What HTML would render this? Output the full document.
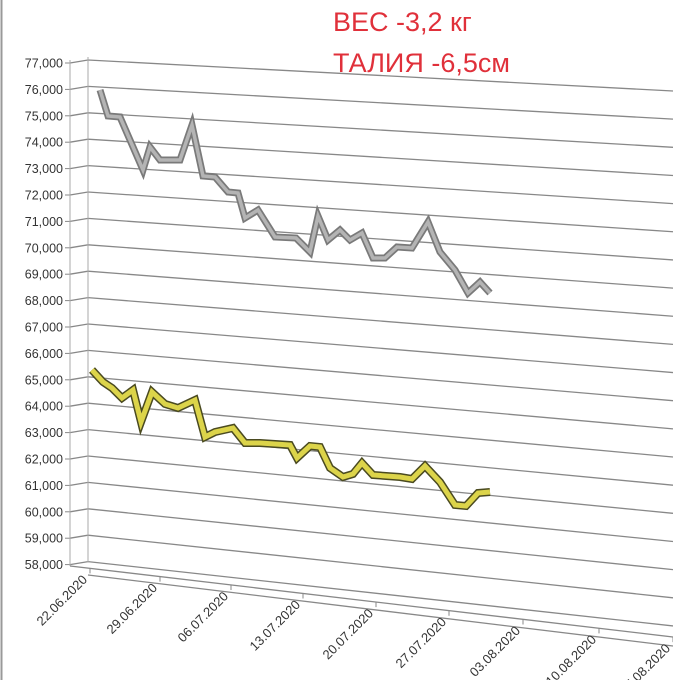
<!DOCTYPE html>
<html><head><meta charset="utf-8"><style>
html,body{margin:0;padding:0;background:#fff;}
svg{display:block;font-family:"Liberation Sans","DejaVu Sans",sans-serif;}
</style></head><body>
<svg id="s" width="673" height="680" viewBox="0 0 673 680" xmlns="http://www.w3.org/2000/svg">
<rect width="673" height="680" fill="#fff"/>
<line x1="1.5" y1="0" x2="1.5" y2="680" stroke="#999" stroke-width="2"/>
<text x="333" y="31" font-size="27" fill="#e0303a">ВЕС -3,2 кг</text>
<text x="333" y="72" font-size="27" fill="#e0303a">ТАЛИЯ -6,5см</text>
<g id="grid"></g>
<g id="ser"></g>
</svg>
<script>
var ns="http://www.w3.org/2000/svg",g=document.getElementById('grid'),sr=document.getElementById('ser');
function el(p,t,a,txt){var e=document.createElementNS(ns,t);for(var k in a)e.setAttribute(k,a[k]);if(txt)e.textContent=txt;p.appendChild(e);return e;}
for(var i=0;i<20;i++){
 var y=63+26.4*i, sl=0.053+0.003*i, v=77-i;
 el(g,'polyline',{points:"70,"+y+" 88,"+(y-3)+" 673,"+(y-3+585*sl),fill:"none",stroke:"#888","stroke-width":1.3});
 el(g,'line',{x1:65,y1:y,x2:70,y2:y,stroke:"#888"});
 el(g,'text',{x:63,y:y+4.5,"font-size":12.5,"text-anchor":"end",fill:"#333"},v+",000");
}
el(g,'line',{x1:70,y1:60,x2:70,y2:566,stroke:"#aaa"});
el(g,'line',{x1:88,y1:57,x2:88,y2:562,stroke:"#aaa"});
el(g,'line',{x1:70,y1:566,x2:673,y2:637,stroke:"#888","stroke-width":1.3});
el(g,'line',{x1:88,y1:575,x2:673,y2:646,stroke:"#888","stroke-width":1.3});
var tx=[90,160,231,303,376,449,523,599,673],lb=["22.06.2020","29.06.2020","06.07.2020","13.07.2020","20.07.2020","27.07.2020","03.08.2020","10.08.2020","17.08.2020"];
for(var j=0;j<9;j++){var x=tx[j],yy=566+(x-70)*0.118;
 el(g,'line',{x1:x,y1:yy,x2:x,y2:yy+5,stroke:"#888"});
 el(g,'text',{x:x-2,y:yy+12,"font-size":13,"text-anchor":"end",fill:"#333",transform:"rotate(-45 "+(x-2)+" "+(yy+12)+")"},lb[j]);}
var gr="100,90 108,116 120,117 143,170 150,147 160,160 180,160 192,125 203,176 215,177 228,192 238,193 245,218 258,210 275,237 296,238 310,252 318,216 328,240 340,230 350,240 362,233 373,258 385,258 397,247 412,248 428,222 440,252 455,270 468,293 480,282 490,293";
var ye="92,370 103,382 112,388 122,398 133,390 141,422 152,392 165,404 178,408 195,400 205,437 215,432 233,428 245,443 260,443 290,445 297,458 310,446 320,447 330,468 343,477 353,474 362,463 373,475 400,477 412,479 425,466 440,482 455,505 466,506 478,493 490,492";
el(sr,'polyline',{points:gr,fill:"none",stroke:"#7a7a7a","stroke-width":7});
el(sr,'polyline',{points:gr,fill:"none",stroke:"#b4b4b4","stroke-width":3.5});
el(sr,'polyline',{points:ye,fill:"none",stroke:"#4a4a20","stroke-width":8});
el(sr,'polyline',{points:ye,fill:"none",stroke:"#dcd44a","stroke-width":5});
</script>
</body></html>
